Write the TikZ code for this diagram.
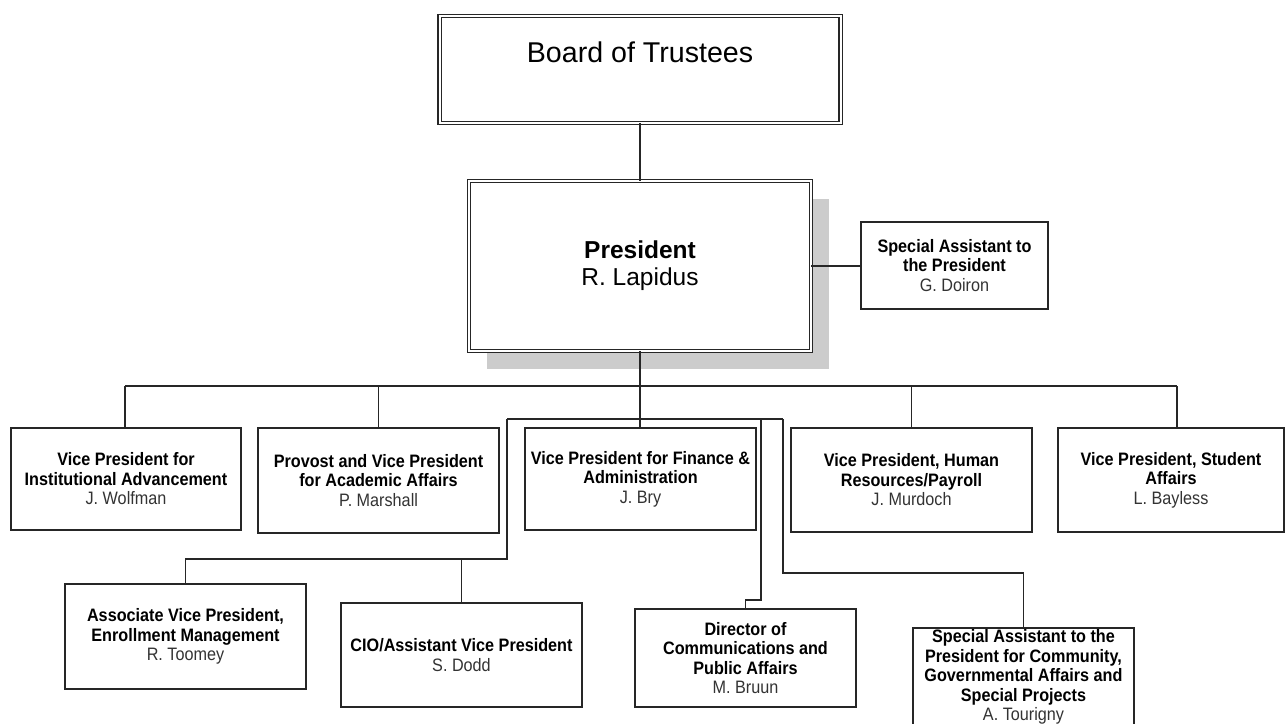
\documentclass[tikz,border=0pt]{standalone}
\usepackage{fontspec}
\setmainfont{Liberation Sans}
\newfontfamily\narrowfont[FakeStretch=0.9]{Liberation Sans}
\usetikzlibrary{shadows}

\tikzset{
  topbox/.style={draw=black!85, fill=white, double=white, double distance=2pt, line width=1.2pt, inner sep=0pt},
  unitbox/.style={draw=black!85, fill=white, line width=1.2pt, align=center, inner sep=0pt,
    font=\narrowfont\fontsize{18}{19.5}\selectfont},
  link/.style={draw=black!85, line width=1.1pt},
}
\newcommand\who[1]{{\color{black!80}#1}}

\begin{document}
\begin{tikzpicture}[x=1pt, y=-1pt]
\path[use as bounding box, fill=white] (0,0) rectangle (1287,723);

\node [topbox, minimum width=401pt, minimum height=106.5pt, text height=21pt, text depth=36pt,
       font=\fontsize{28.6}{34}\selectfont] (board) at (640,69.5) {Board of Trustees};
\node [topbox, align=center, minimum width=341.5pt, minimum height=169.5pt,
       font=\fontsize{24.5}{27}\selectfont,
       drop shadow={shadow xshift=18pt, shadow yshift=-18pt, fill=black!20, opacity=1}]
       (pres) at (640,266) {\textbf{President}\\R. Lapidus};
\node [unitbox, minimum width=187pt, minimum height=87pt] (specpres) at (954.5,265.5)
      {\textbf{Special Assistant to}\\\textbf{the President}\\\who{G. Doiron}};

% vice presidents
\node [unitbox, minimum width=230pt, minimum height=102pt] (instadv) at (126,479)
      {\textbf{Vice President for}\\\textbf{Institutional Advancement}\\\who{J. Wolfman}};
\node [unitbox, minimum width=241pt, minimum height=105pt] (provost) at (378.5,480.5)
      {\textbf{Provost and Vice President}\\\textbf{for Academic Affairs}\\\who{P. Marshall}};
\node [unitbox, minimum width=231pt, minimum height=102pt] (finance) at (640.5,479)
      {\textbf{Vice President for Finance \&}\\\textbf{Administration}\\\who{J. Bry}};
\node [unitbox, minimum width=241pt, minimum height=104pt] (humres) at (911.5,480)
      {\textbf{Vice President, Human}\\\textbf{Resources/Payroll}\\\who{J. Murdoch}};
\node [unitbox, minimum width=226pt, minimum height=104pt] (student) at (1171,480)
      {\textbf{Vice President, Student}\\\textbf{Affairs}\\\who{L. Bayless}};

% finance and administration
\node [unitbox, minimum width=241pt, minimum height=105pt] (assoc) at (185.5,636.5)
      {\textbf{Associate Vice President,}\\\textbf{Enrollment Management}\\\who{R. Toomey}};
\node [unitbox, minimum width=241pt, minimum height=104pt] (cio) at (461.5,655)
      {\textbf{CIO/Assistant Vice President}\\\who{S. Dodd}};
\node [unitbox, minimum width=221pt, minimum height=98pt] (director) at (745.5,658)
      {\textbf{Director of}\\\textbf{Communications and}\\\textbf{Public Affairs}\\\who{M. Bruun}};
\node [unitbox, minimum width=221pt, minimum height=98pt] (specproj) at (1023.5,677)
      {\textbf{Special Assistant to the}\\\textbf{President for Community,}\\\textbf{Governmental Affairs and}\\\textbf{Special Projects}\\\who{A. Tourigny}};

\draw [link] (board.south) -- (pres.north);
\draw [link] (pres.east) -- (pres.east -| specpres.west);
\draw [link, line width=2.2pt] (pres.south) -- (pres.south |- finance.north);

\coordinate (busL) at (125,386);
\coordinate (busR) at (1177,386);
\draw [link] (busL) -- (busR);
\draw [link] (busL) -- (busL |- instadv.north);
\draw [link] (provost.north |- busL) -- (provost.north);
\draw [link] (humres.north |- busL) -- (humres.north);
\draw [link] (busR) -- (busR |- student.north);

\coordinate (finL)   at (507,419);
\coordinate (finR)   at (783,419);
\coordinate (lowbus) at (507,559);
\coordinate (dirtop) at (761,419);
\coordinate (dirjog) at (761,600);
\coordinate (spjog)  at (783,573);
\draw [link] (finL) -- (finR);
\draw [link] (finL) -- (lowbus) -| (assoc.north);
\draw [link] (cio.north |- lowbus) -- (cio.north);
\draw [link] (dirtop) -- (dirjog) -| (director.north);
\draw [link] (finR) -- (spjog) -| (specproj.north);
\end{tikzpicture}
\end{document}
